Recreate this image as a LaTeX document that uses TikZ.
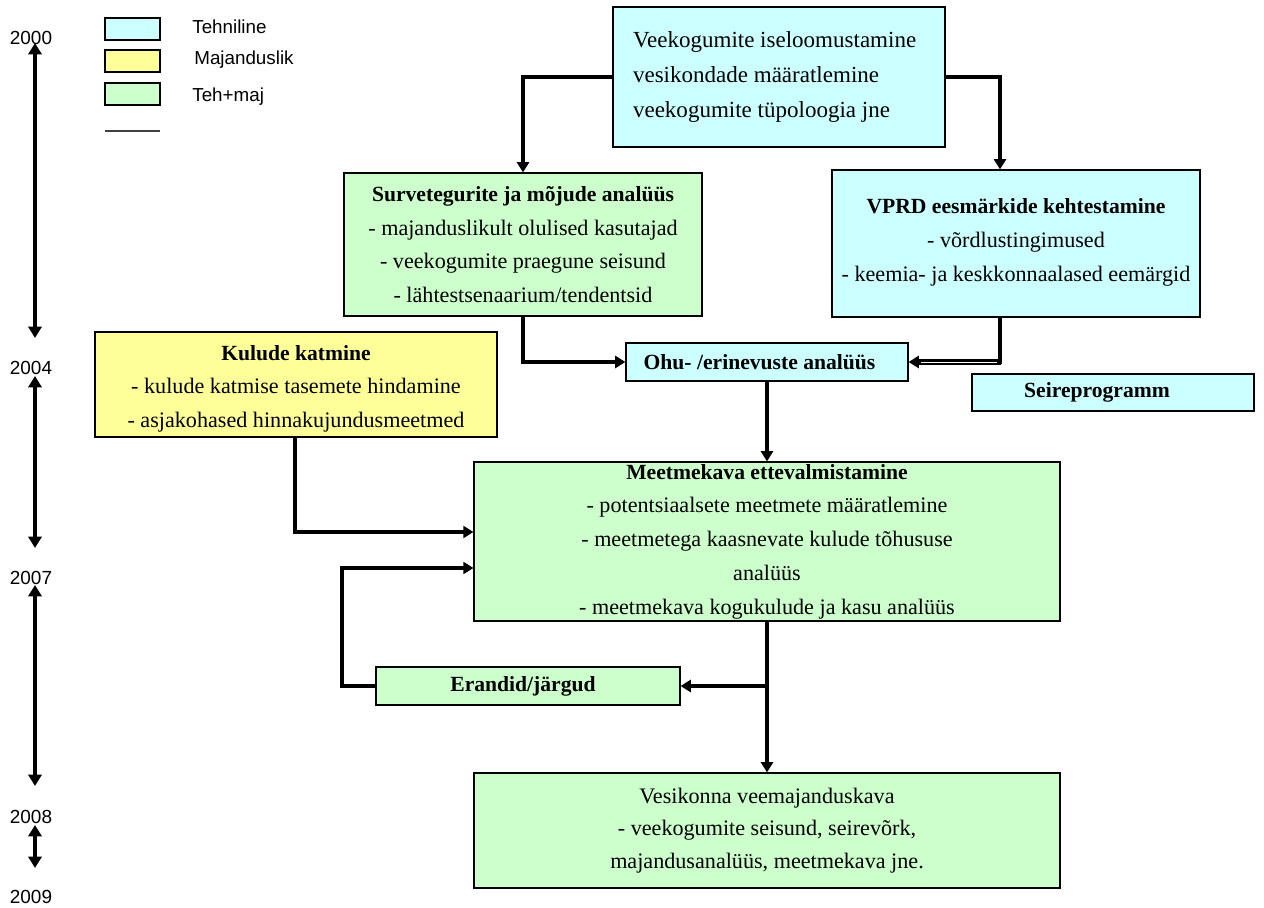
\documentclass[tikz,border=0pt]{standalone}
\usepackage{fontspec}
\setmainfont{Liberation Serif}
\newfontfamily\arialf{Liberation Sans}
\usetikzlibrary{arrows.meta,calc}
\definecolor{cblue}{HTML}{CCFFFF}
\definecolor{cyel}{HTML}{FFFF99}
\definecolor{cgreen}{HTML}{CCFFCC}
\newcommand\hb[1]{{\fontsize{12.3}{19.2}\selectfont\bfseries #1}}
\begin{document}
\begin{tikzpicture}[x=0.02cm,y=-0.02cm,
 box/.style={draw=black, line width=0.7pt, inner sep=0pt, align=center, font=\fontsize{12.6}{19.2}\selectfont},
 conn/.style={line width=2.2pt, -{Triangle[length=5.8pt,width=6.8pt]}},
 tl/.style={line width=1.9pt, {Triangle[length=6.5pt,width=7.5pt]}-{Triangle[length=6.5pt,width=7.5pt]}},
 year/.style={font=\arialf\fontsize{10.8}{12}\selectfont, inner sep=0pt},
 leg/.style={draw=black, line width=0.8pt, minimum width=1.1cm, minimum height=0.44cm, inner sep=0pt},
 legtxt/.style={font=\arialf\fontsize{10.7}{12}\selectfont, anchor=west, inner sep=0pt}]
\useasboundingbox (0,0) rectangle (1264,908);

% legend
\node[leg, fill=cblue] (l1) at (132.5,29) {};
\node[leg, fill=cyel] (l2) at (132.5,61) {};
\node[leg, fill=cgreen] (l3) at (132.5,94) {};
\node[legtxt] (t1) at (192,27) {Tehniline};
\node[legtxt] (t2) at (194,60) {Majanduslik};
\node[legtxt] (t3) at (192,97) {Teh+maj};
\coordinate (la) at (105,131);
\coordinate (lb) at (160,131);
\draw[line width=1pt, black!75] (la) -- (lb);

% timeline
\node[year] (y2000) at (31,38) {2000};
\node[year] (y2004) at (31,368) {2004};
\node[year] (y2007) at (31,578) {2007};
\node[year] (y2008) at (31,817) {2008};
\node[year] (y2009) at (31,897) {2009};
\coordinate (a1) at (35,43);  \coordinate (b1) at (35,338);
\coordinate (a2) at (35,376); \coordinate (b2) at (35,548);
\coordinate (a3) at (35,585); \coordinate (b3) at (35,786);
\coordinate (a4) at (35,825); \coordinate (b4) at (35,868);
\draw[tl] (a1) -- (b1);
\draw[tl] (a2) -- (b2);
\draw[tl] (a3) -- (b3);
\draw[tl] (a4) -- (b4);

% boxes
\node[box, fill=cblue, minimum width=6.64cm, minimum height=2.8cm, text width=5.84cm, align=flush left, inner xsep=0.4cm,
      font=\fontsize{13.1}{19.8}\selectfont] (top) at (779,77)
 {Veekogumite iseloomustamine\\vesikondade määratlemine\\veekogumite tüpoloogia jne};
\node[box, fill=cgreen, minimum width=7.16cm, minimum height=2.86cm] (surv) at (523,244.5)
 {\hb{Survetegurite ja mõjude analüüs}\\- majanduslikult olulised kasutajad\\- veekogumite praegune seisund\\- lähtestsenaarium/tendentsid};
\node[box, fill=cblue, minimum width=7.36cm, minimum height=2.94cm] (vprd) at (1016,243.5)
 {\hb{VPRD eesmärkide kehtestamine}\\- võrdlustingimused\\- keemia- ja keskkonnaalased eemärgid\\[-15pt]};
\node[box, fill=cblue, minimum width=5.64cm, minimum height=0.76cm] (ohu) at (767,362)
 {\hb{Ohu- /erinevuste analüüs}\hspace*{0.3cm}};
\node[box, fill=cblue, minimum width=5.64cm, minimum height=0.74cm] (seire) at (1113,392.5)
 {\hb{Seireprogramm}\hspace*{0.64cm}};
\node[box, fill=cyel, minimum width=8.04cm, minimum height=2.1cm] (kul) at (296,384.5)
 {\\[-6pt]\hb{Kulude katmine}\\- kulude katmise tasemete hindamine\\- asjakohased hinnakujundusmeetmed};
\node[box, fill=cgreen, minimum width=11.72cm, minimum height=3.18cm] (meet) at (767,541.5)
 {\hb{Meetmekava ettevalmistamine}\\- potentsiaalsete meetmete määratlemine\\- meetmetega kaasnevate kulude tõhususe\\analüüs\\- meetmekava kogukulude ja kasu analüüs};
\node[box, fill=cgreen, minimum width=6.08cm, minimum height=0.76cm] (eran) at (528,686)
 {\hb{Erandid/järgud}\hspace*{0.2cm}};
\node[box, fill=cgreen, minimum width=11.72cm, minimum height=2.3cm, font=\fontsize{12.6}{18.5}\selectfont] (ves) at (767,830.5)
 {Vesikonna veemajanduskava\\- veekogumite seisund, seirevõrk,\\majandusanalüüs, meetmekava jne.};

% connectors
\draw[conn] (top.west) -| (surv.north);
\draw[conn] (top.east) -| ($(vprd.north)+(-16,0)$);
\draw[conn] (surv.south) |- (ohu.west);
\coordinate (vc) at ($(vprd.south)+(-16,0)$);
\draw[conn] (vc) |- (ohu.east);
\draw[line width=3.8pt] ($(ohu.east)+(9,0)$) -- ($(vc |- ohu.east)+(1,0)$);
\draw[white, line width=0.4pt] ($(ohu.east)+(12,0)$) -- ($(vc |- ohu.east)+(-3,0)$);
\draw[conn] (ohu.south) -- (meet.north);
\draw[conn] ($(kul.south)+(-1,0)$) |- ($(meet.west)+(0,-9.5)$);
\draw[conn] (eran.west) -- ++(-33,0) |- ($(meet.west)+(0,26.5)$);
\draw[conn] (meet.south) -- (ves.north);
\coordinate (br) at (meet.south |- eran.east);
\draw[conn] (br) -- (eran.east);
\end{tikzpicture}
\end{document}
